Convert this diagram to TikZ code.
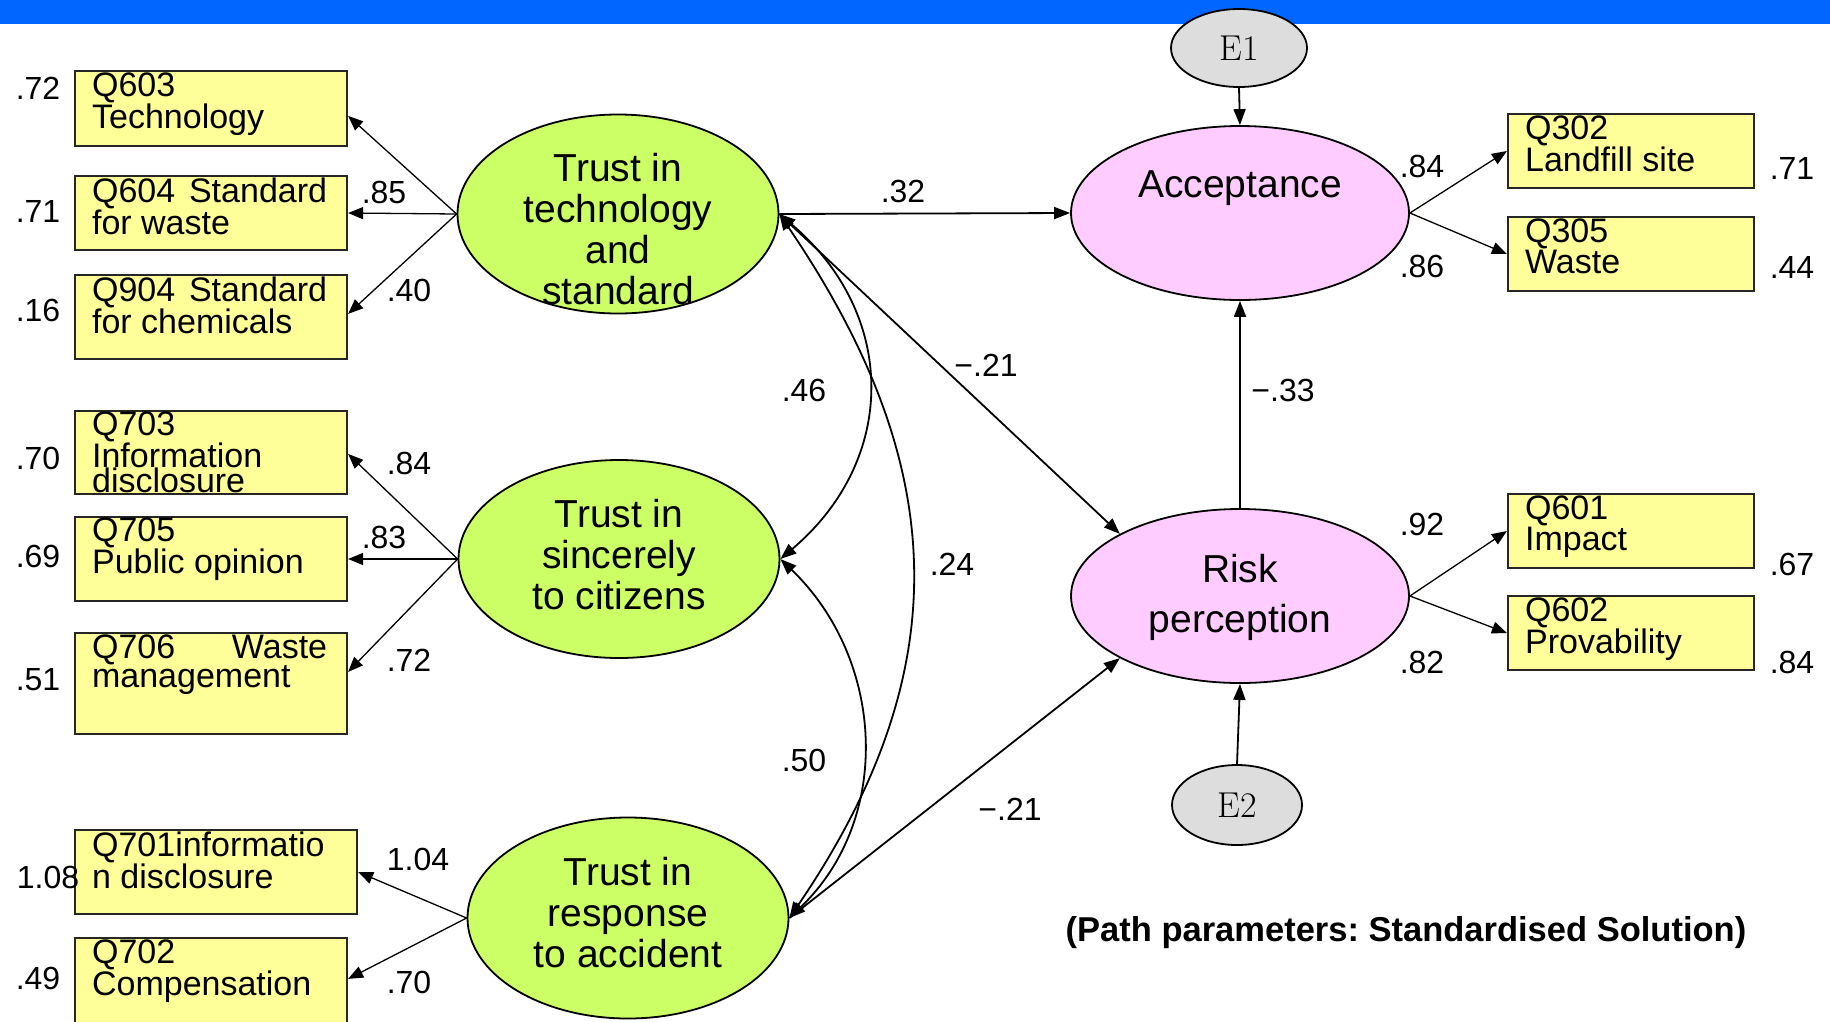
\documentclass[tikz,border=0pt]{standalone}
\usepackage{fontspec}
\setmainfont{Liberation Sans}
\newfontfamily\cmfont{Latin Modern Roman}
\usetikzlibrary{arrows.meta,shapes.geometric,calc}
\frenchspacing
\definecolor{barblue}{RGB}{0,102,255}
\definecolor{lvgreen}{RGB}{204,255,102}
\definecolor{lvpink}{RGB}{255,204,255}
\definecolor{boxyellow}{RGB}{255,255,153}
\definecolor{errgray}{RGB}{221,221,221}
\tikzset{
  obsbox/.style={rectangle, draw=black!85, line width=2.2pt, fill=boxyellow, inner sep=0pt},
  boxtext/.style={anchor=north west, inner sep=0pt, align=left, font=\fontsize{34}{29}\selectfont},
  latent/.style={ellipse, draw=black, line width=1.8pt, inner sep=0pt},
  lgreen/.style={latent, fill=lvgreen},
  lpink/.style={latent, fill=lvpink},
  errnode/.style={ellipse, draw=black, line width=1.8pt, fill=errgray, inner sep=0pt, font=\cmfont\fontsize{36}{36}\selectfont},
  lattext/.style={align=center, inner sep=0pt, font=\fontsize{39}{41}\selectfont},
  coef/.style={inner sep=0pt, font=\fontsize{32}{32}\selectfont},
  loadarrow/.style={-{Triangle[length=15pt,width=12pt]}, line width=1.3pt},
  regarrow/.style={-{Triangle[length=16pt,width=12pt]}, line width=1.8pt},
  covarrow/.style={{Triangle[length=16pt,width=12pt]}-{Triangle[length=16pt,width=12pt]}, line width=1.8pt},
}
\begin{document}
\begin{tikzpicture}[x=1pt,y=-1pt]
\useasboundingbox (0,0) rectangle (1830,1021);
\clip (0,0) rectangle (1830,1021);
\fill[barblue] (0,0) rectangle (1830,24);

% observed boxes, left
\node[obsbox, minimum width=272pt, minimum height=75pt] (q603) at (211,108.5) {};
\node[boxtext] (q603t) at ($(q603.north west)+(18,3)$) {Q603\\Technology};
\node[obsbox, minimum width=272pt, minimum height=74pt] (q604) at (211,213) {};
\node[boxtext] (q604t) at ($(q604.north west)+(18,3)$) {\makebox[235pt][s]{Q604\hfill Standard}\\for waste};
\node[obsbox, minimum width=272pt, minimum height=84pt] (q904) at (211,317) {};
\node[boxtext] (q904t) at ($(q904.north west)+(18,3)$) {\makebox[235pt][s]{Q904\hfill Standard}\\for chemicals};
\node[obsbox, minimum width=272pt, minimum height=83pt] (q703) at (211,452.5) {};
\node[boxtext] (q703t) at ($(q703.north west)+(18,2)$) {Q703\\Information\\[-4pt]disclosure};
\node[obsbox, minimum width=272pt, minimum height=84pt] (q705) at (211,559) {};
\node[boxtext] (q705t) at ($(q705.north west)+(18,2)$) {Q705\\Public opinion};
\node[obsbox, minimum width=272pt, minimum height=101pt] (q706) at (211,683.5) {};
\node[boxtext] (q706t) at ($(q706.north west)+(18,3)$) {\makebox[235pt][s]{Q706\hfill Waste}\\management};
\node[obsbox, minimum width=282pt, minimum height=84pt] (q701) at (216,872) {};
\node[boxtext] (q701t) at ($(q701.north west)+(18,3)$) {Q701informatio\\n disclosure};
\node[obsbox, minimum width=272pt, minimum height=92pt] (q702) at (211,984) {};
\node[boxtext] (q702t) at ($(q702.north west)+(18,3)$) {Q702\\Compensation};

% observed boxes, right
\node[obsbox, minimum width=246pt, minimum height=74pt] (q302) at (1631,151) {};
\node[boxtext] (q302t) at ($(q302.north west)+(18,3)$) {Q302\\Landfill site};
\node[obsbox, minimum width=246pt, minimum height=74pt] (q305) at (1631,254) {};
\node[boxtext] (q305t) at ($(q305.north west)+(18,3)$) {Q305\\Waste};
\node[obsbox, minimum width=246pt, minimum height=74pt] (q601) at (1631,531) {};
\node[boxtext] (q601t) at ($(q601.north west)+(18,3)$) {Q601\\Impact};
\node[obsbox, minimum width=246pt, minimum height=74pt] (q602) at (1631,633) {};
\node[boxtext] (q602t) at ($(q602.north west)+(18,3)$) {Q602\\Provability};

% latent variables
\node[lgreen, minimum width=321pt, minimum height=199pt] (t1) at (618,214) {};
\node[lattext] (t1t) at (618,229) {Trust in\\technology\\and\\standard};
\node[lgreen, minimum width=321pt, minimum height=198pt] (t2) at (619,559) {};
\node[lattext] (t2t) at (619,555) {Trust in\\sincerely\\to citizens};
\node[lgreen, minimum width=321pt, minimum height=201pt] (t3) at (628,918) {};
\node[lattext] (t3t) at (628,913) {Trust in\\response\\to accident};
\node[lpink, minimum width=338pt, minimum height=174pt] (acc) at (1240,213) {};
\node[lattext] (acct) at (1240,188) {Acceptance};
\node[lpink, minimum width=338pt, minimum height=174pt] (risk) at (1240,596) {};
\node[lattext, font=\fontsize{39}{50}\selectfont] (riskt) at (1240,597) {Risk\\perception};
\node[errnode, minimum width=136pt, minimum height=78pt] (e1) at (1239,48) {E1};
\node[errnode, minimum width=130pt, minimum height=80pt] (e2) at (1237,805) {E2};

% loadings, left
\draw[loadarrow] (t1.west) -- ($(q603.north east)+(0,46)$);
\draw[loadarrow] (t1.west) -- (q604.east);
\draw[loadarrow] (t1.west) -- ($(q904.north east)+(0,40)$);
\draw[loadarrow] (t2.west) -- ($(q703.north east)+(0,44)$);
\draw[loadarrow] (t2.west) -- (q705.east);
\draw[loadarrow] (t2.west) -- ($(q706.north east)+(0,40)$);
\draw[loadarrow] (t3.west) -- (q701.east);
\draw[loadarrow] (t3.west) -- ($(q702.north east)+(0,42)$);

% loadings, right
\draw[loadarrow] (acc.east) -- (q302.west);
\draw[loadarrow] (acc.east) -- (q305.west);
\draw[loadarrow] (risk.east) -- (q601.west);
\draw[loadarrow] (risk.east) -- (q602.west);

% structural paths
\draw[regarrow] (e1.south) -- (acc.north);
\draw[regarrow] (risk.north) -- (acc.south);
\draw[regarrow] (e2.north) -- (risk.south);
\draw[regarrow] (t1.east) -- (acc.west);
\draw[regarrow] (t1.east) -- (risk.north west);
\draw[regarrow] (t3.east) -- (risk.south west);

% covariances
\draw[covarrow] (t1.east) .. controls ($(t1.east)+(118,100)$) and ($(t2.east)+(118,-100)$) .. (t2.east);
\draw[covarrow] (t2.east) .. controls ($(t2.east)+(104,100)$) and ($(t3.east)+(104,-100)$) .. (t3.east);
\draw[covarrow] (t1.east) .. controls ($(t1.east)+(170,250)$) and ($(t3.east)+(170,-250)$) .. (t3.east);

% coefficients, left
\node[coef] (r603) at (38,88) {.72};
\node[coef] (r604) at (38,211) {.71};
\node[coef] (r904) at (38,310) {.16};
\node[coef] (r703) at (38,458) {.70};
\node[coef] (r705) at (38,556) {.69};
\node[coef] (r706) at (38,680) {.51};
\node[coef] (r701) at (48,877) {1.08};
\node[coef] (r702) at (38,978) {.49};
\node[coef] (l603) at (384,192) {.85};
\node[coef] (l904) at (409,290) {.40};
\node[coef] (l703) at (409,463) {.84};
\node[coef] (l705) at (384,537) {.83};
\node[coef] (l706) at (409,660) {.72};
\node[coef] (l701) at (418,859) {1.04};
\node[coef] (l702) at (409,982) {.70};

% coefficients, middle
\node[coef] (p1) at (903,191) {.32};
\node[coef] (p2) at (986,365) {−.21};
\node[coef] (c12) at (804,390) {.46};
\node[coef] (c13) at (952,564) {.24};
\node[coef] (c23) at (804,760) {.50};
\node[coef] (p3) at (1010,809) {−.21};
\node[coef] (p4) at (1283,390) {−.33};

% coefficients, right
\node[coef] (l302) at (1422,166) {.84};
\node[coef] (l305) at (1422,266) {.86};
\node[coef] (r302) at (1792,168) {.71};
\node[coef] (r305) at (1792,267) {.44};
\node[coef] (l601) at (1422,524) {.92};
\node[coef] (l602) at (1422,662) {.82};
\node[coef] (r601) at (1792,564) {.67};
\node[coef] (r602) at (1792,662) {.84};

\node[inner sep=0pt, font=\bfseries\fontsize{34.5}{40}\selectfont] (cap) at (1406,933) {(Path parameters: Standardised Solution)};
\end{tikzpicture}
\end{document}
